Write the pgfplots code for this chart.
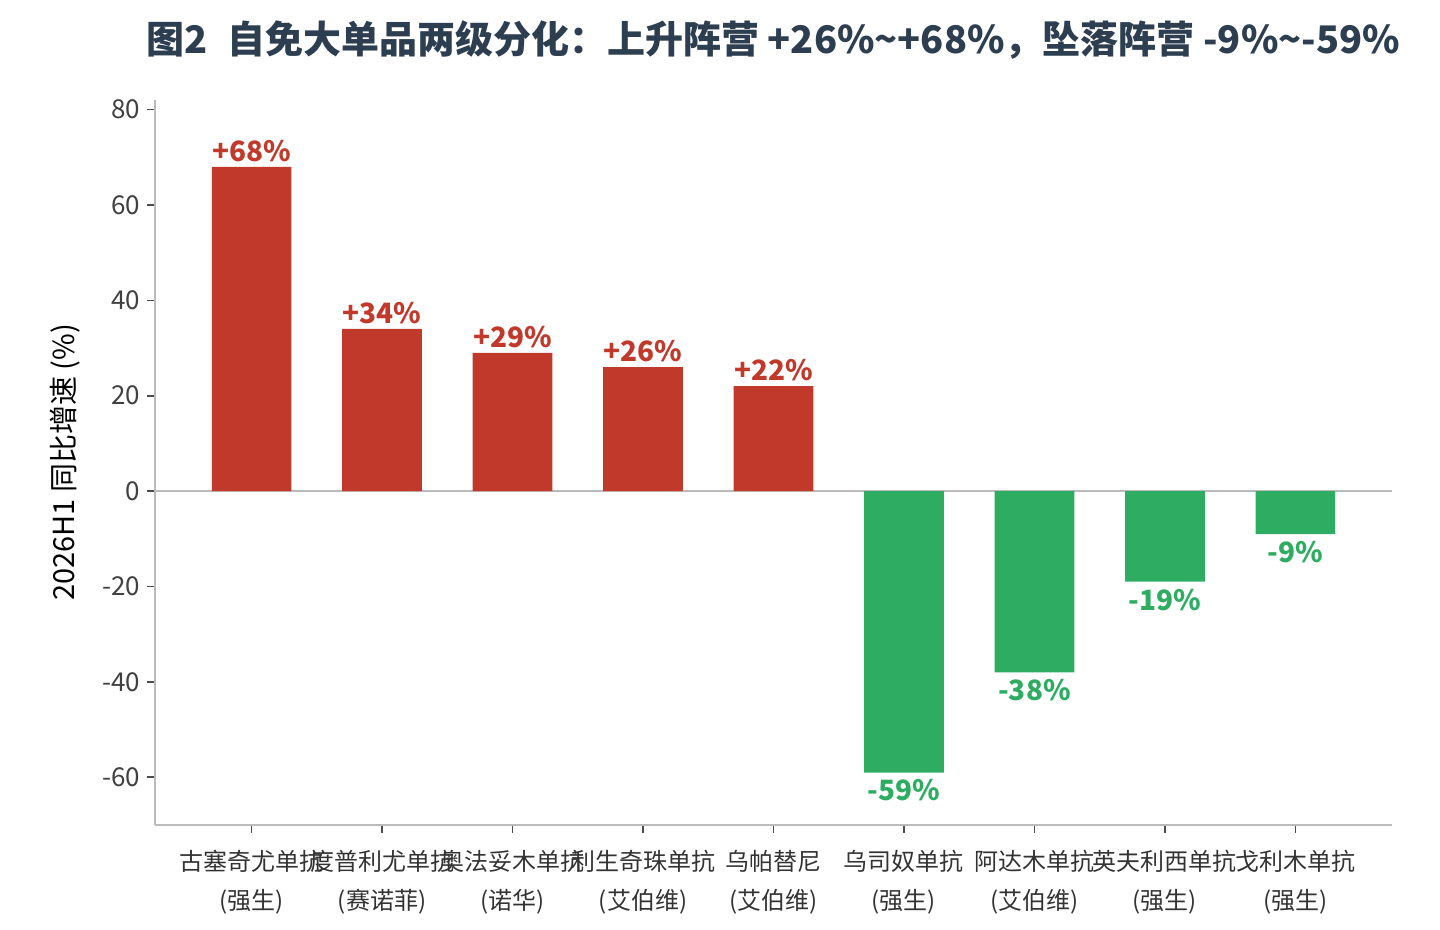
\documentclass[border=0pt]{standalone}
\usepackage{pgfplots}
\pgfplotsset{compat=1.18}
\usepackage{fontspec}
\setmainfont{Noto Sans CJK SC}
\definecolor{redb}{HTML}{C0392B}
\definecolor{greenb}{HTML}{2EAD62}
\definecolor{titlec}{HTML}{2C3E50}
\definecolor{spine}{HTML}{BBBBBB}
\begin{document}
\begin{tikzpicture}
\path[use as bounding box] (-77.5pt,-52.5pt) rectangle (642.5pt,412.5pt);
\begin{axis}[at={(0,0)},anchor=south west,
 scale only axis, width=618.5pt, height=362.5pt,
 xmin=-0.74, xmax=8.74, ymin=-70, ymax=82,
 axis x line*=bottom, axis y line*=left,
 axis line style={spine,line width=0.8pt},
 ytick={-60,-40,-20,0,20,40,60,80},
 xtick={0,...,8},
 xticklabels={古塞奇尤单抗\\(强生),度普利尤单抗\\(赛诺菲),奥法妥木单抗\\(诺华),利生奇珠单抗\\(艾伯维),乌帕替尼\\(艾伯维),乌司奴单抗\\(强生),阿达木单抗\\(艾伯维),英夫利西单抗\\(强生),戈利木单抗\\(强生)},
 xticklabel style={align=center,font=\fontsize{12}{19.5}\selectfont,text=black!80,yshift=-5pt},
 yticklabel style={font=\fontsize{13}{14}\selectfont,text=black!75},
 /pgf/number format/assume math mode=true,
 tick style={black!70,line width=0.8pt},
 tick align=outside, major tick length=4pt,
 ylabel={2026H1 同比增速 (\%)}, ylabel style={font=\fontsize{14.5}{16}\selectfont,yshift=4pt},
 title={\bfseries 图2\enspace 自免大单品两级分化：上升阵营 +26\%\textasciitilde+68\%，坠落阵营 -9\%\textasciitilde-59\%},
 title style={font=\fontsize{19}{22}\selectfont,text=titlec,at={(0.5,1)},anchor=south,yshift=11pt,xshift=0pt},
 ybar, bar width=0.61, bar shift=0pt,
 nodes near coords style={font=\bfseries\fontsize{14}{16}\selectfont},
 clip=false,
]
\draw[spine,line width=0.8pt] (axis cs:-0.74,0) -- (axis cs:8.74,0);
\addplot[fill=redb,draw=none,nodes near coords={+\pgfmathprintnumber{\pgfplotspointmeta}\%},nodes near coords style={text=redb,anchor=south,yshift=-1pt}] coordinates {(0,68)(1,34)(2,29)(3,26)(4,22)};
\addplot[fill=greenb,draw=none,nodes near coords={\pgfmathprintnumber{\pgfplotspointmeta}\%},nodes near coords style={text=greenb,anchor=north,yshift=0pt}] coordinates {(5,-59)(6,-38)(7,-19)(8,-9)};
\end{axis}
\end{tikzpicture}
\end{document}
